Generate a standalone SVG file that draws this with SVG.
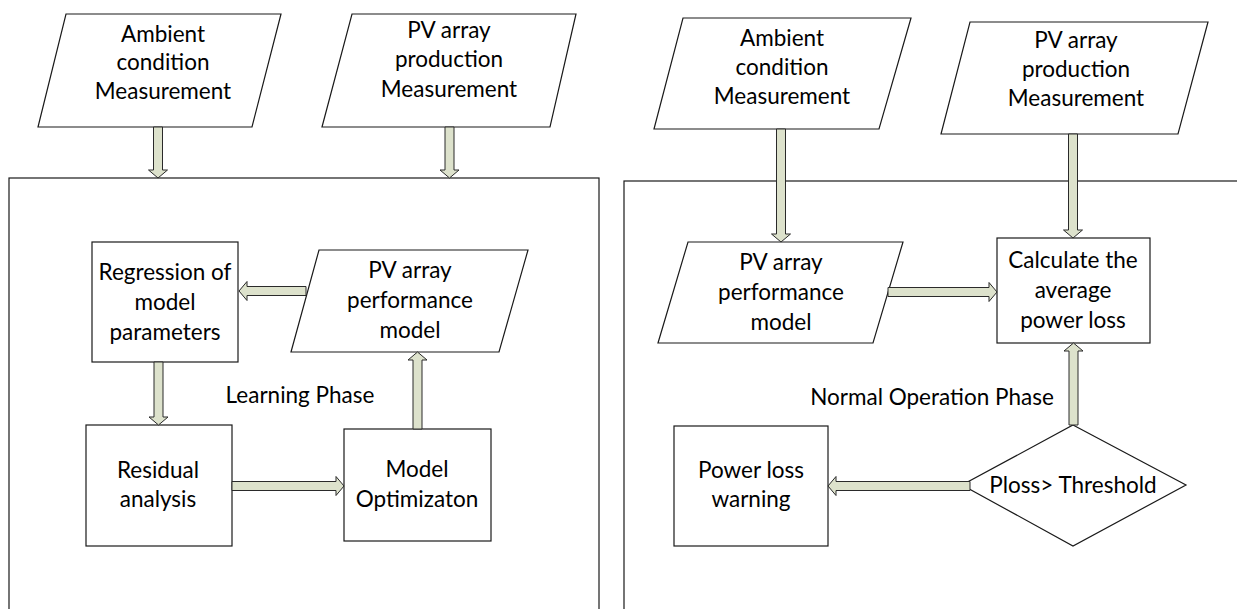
<svg xmlns="http://www.w3.org/2000/svg" width="1237" height="609" viewBox="0 0 1237 609">
<style>
.shape{fill:#ffffff;stroke:#1a1a1a;stroke-width:1.2}
.panel{fill:none;stroke:#1a1a1a;stroke-width:1.2}
.arrow{fill:#dde2cc;stroke:#2a2a2a;stroke-width:1}
text{font-family:Lato,"Liberation Sans",sans-serif;font-size:22.5px;fill:#000;text-anchor:middle}
</style>
<rect width="1237" height="609" fill="#ffffff"/>
<g id="panel-learning"><rect class="panel" x="9" y="178" width="590" height="500"/></g>
<g id="panel-normal"><rect class="panel" x="624" y="181" width="700" height="500"/></g>

<g id="ambient-left"><polygon class="shape" points="66,14 281,14 252,127 38,127"/>
<text x="163" y="42">Ambient</text><text x="163" y="70">condition</text><text x="163" y="99">Measurement</text></g>
<g id="production-left"><polygon class="shape" points="352,14 576,14 550,127 322,127"/>
<text x="449" y="38">PV array</text><text x="449" y="67">production</text><text x="449" y="97">Measurement</text></g>
<g id="regression"><rect class="shape" x="92" y="242" width="146" height="120"/>
<text x="165" y="280">Regression of</text><text x="165" y="310">model</text><text x="165" y="340">parameters</text></g>
<g id="perf-left"><polygon class="shape" points="319,250 528,250 499,352 291,352"/>
<text x="410" y="278">PV array</text><text x="410" y="308">performance</text><text x="410" y="338">model</text></g>
<g id="residual"><rect class="shape" x="86" y="425" width="146" height="121"/>
<text x="158" y="478">Residual</text><text x="158" y="507">analysis</text></g>
<g id="optimization"><rect class="shape" x="344" y="429" width="147" height="112"/>
<text x="417" y="477">Model</text><text x="417" y="507">Optimizaton</text></g>
<g id="label-learning"><text x="300" y="403">Learning Phase</text></g>

<g id="ambient-right"><polygon class="shape" points="683,18 911,18 879,129 654,129"/>
<text x="782" y="46">Ambient</text><text x="782" y="75">condition</text><text x="782" y="104">Measurement</text></g>
<g id="production-right"><polygon class="shape" points="970,22 1208,22 1178,134 941,134"/>
<text x="1076" y="48">PV array</text><text x="1076" y="77">production</text><text x="1076" y="106">Measurement</text></g>
<g id="perf-right"><polygon class="shape" points="688,242 903,242 873,343 658,343"/>
<text x="781" y="270">PV array</text><text x="781" y="300">performance</text><text x="781" y="330">model</text></g>
<g id="calculate"><rect class="shape" x="997" y="238" width="153" height="105"/>
<text x="1073" y="268">Calculate the</text><text x="1073" y="298">average</text><text x="1073" y="328">power loss</text></g>
<g id="decision"><polygon class="shape" points="1073,425 1186,485 1073,546 962,485"/>
<text x="1073" y="493">Ploss&gt; Threshold</text></g>
<g id="warning"><rect class="shape" x="674" y="426" width="154" height="120"/>
<text x="751" y="478">Power loss</text><text x="751" y="507">warning</text></g>
<g id="label-normal"><text x="932" y="405">Normal Operation Phase</text></g>

<g id="connectors">
<polygon class="arrow" points="153.5,127 162.5,127 162.5,170 167.5,170 158,178 148.5,170 153.5,170"/>
<polygon class="arrow" points="445,127 454,127 454,170 459,170 449.5,178 440,170 445,170"/>
<polygon class="arrow" points="306,286.5 306,295.5 247,295.5 247,300.5 239,291 247,281.5 247,286.5"/>
<polygon class="arrow" points="154,362 163,362 163,417 168,417 158.5,425 149,417 154,417"/>
<polygon class="arrow" points="232,481.5 232,490.5 336,490.5 336,495.5 344,486 336,476.5 336,481.5"/>
<polygon class="arrow" points="413,429 422,429 422,360 427,360 417.5,352 408,360 413,360"/>
<polygon class="arrow" points="776.5,129 785.5,129 785.5,234 790.5,234 781,242 771.5,234 776.5,234"/>
<polygon class="arrow" points="1068.5,134 1077.5,134 1077.5,230 1082.5,230 1073,238 1063.5,230 1068.5,230"/>
<polygon class="arrow" points="888,287.5 888,296.5 989,296.5 989,301.5 997,292 989,282.5 989,287.5"/>
<polygon class="arrow" points="1069,425 1078,425 1078,351 1083,351 1073.5,343 1064,351 1069,351"/>
<polygon class="arrow" points="970,481.5 970,490.5 836,490.5 836,495.5 828,486 836,476.5 836,481.5"/>
</g>
</svg>
